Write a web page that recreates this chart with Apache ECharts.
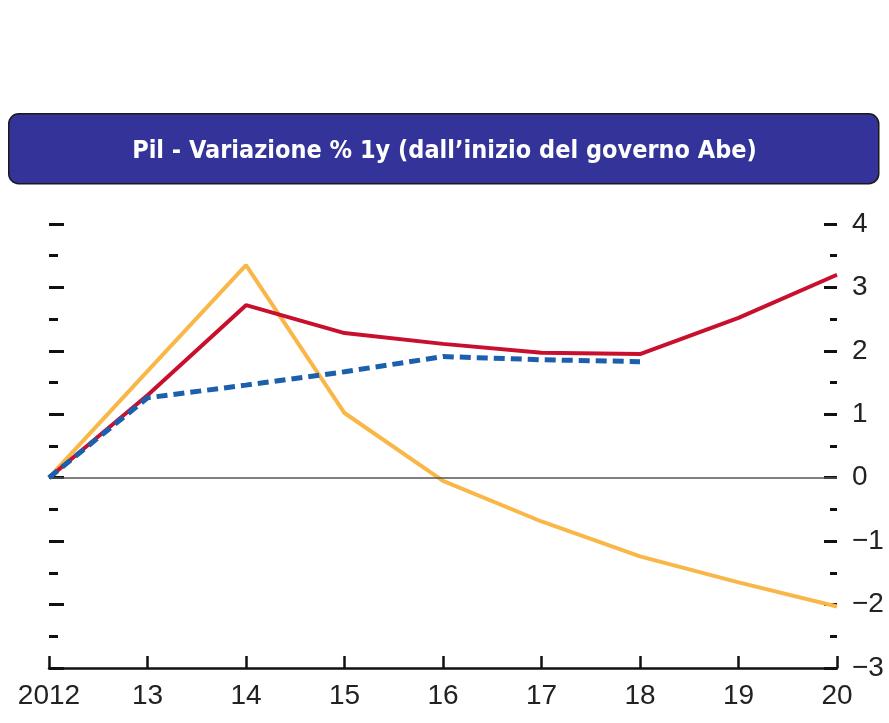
<!DOCTYPE html>
<html>
<head>
<meta charset="utf-8">
<script src="https://cdn.jsdelivr.net/npm/echarts@6/dist/echarts.min.js"></script>
<style>
  html, body { margin: 0; padding: 0; background: #fff; }
  #main { width: 889px; height: 723px; }
</style>
</head>
<body>
<div id="main"></div>
<script>
// dati
var anni = ['2012', '13', '14', '15', '16', '17', '18', '19', '20'];
var serieRossa = [0, 1.3, 2.72, 2.28, 2.11, 1.97, 1.95, 2.52, 3.2];
var serieGialla = [0, 1.68, 3.35, 1.02, -0.05, -0.69, -1.24, -1.65, -2.03];
var serieBlu = [0, 1.26, 1.46, 1.67, 1.91, 1.86, 1.83, null, null];
var yMin = -3, yMax = 4;

var chart = echarts.init(document.getElementById('main'));

var fontAssi = 'Liberation Sans, Arial, sans-serif';

var option = {
  animation: false,
  backgroundColor: '#ffffff',
  title: {
    text: 'Pil - Variazione % 1y (dall\u2019inizio del governo Abe)',
    left: 'center',
    top: 134,
    textStyle: {
      color: '#ffffff',
      fontFamily: 'DejaVu Sans Condensed, DejaVu Sans, sans-serif',
      fontWeight: 'bold',
      fontSize: 25
    }
  },
  graphic: [{
    type: 'rect',
    left: 8,
    top: 113,
    z: -1,
    shape: { width: 870, height: 70, r: 10 },
    style: { fill: '#333399', stroke: '#1a1a1a', lineWidth: 1.5 }
  }],
  grid: {
    left: 49,
    right: 52,
    top: 224,
    bottom: 55,
    containLabel: false
  },
  xAxis: {
    type: 'category',
    data: anni,
    boundaryGap: false,
    axisLine: { onZero: false, lineStyle: { color: '#111', width: 2.5 } },
    axisTick: {
      inside: true,
      length: 12,
      alignWithLabel: true,
      lineStyle: { color: '#111', width: 2.5 }
    },
    axisLabel: {
      color: '#222',
      fontFamily: fontAssi,
      fontSize: 28,
      margin: 14,
      showMinLabel: true,
      showMaxLabel: true
    },
    splitLine: { show: false }
  },
  yAxis: [{
    type: 'value',
    position: 'left',
    min: yMin,
    max: yMax,
    interval: 1,
    axisLine: { show: false },
    axisTick: { show: true, inside: true, length: 15, lineStyle: { color: '#111', width: 3 } },
    minorTick: { show: true, splitNumber: 2, length: 9, lineStyle: { color: '#111', width: 3 } },
    axisLabel: { show: false },
    splitLine: { show: false }
  }, {
    type: 'value',
    position: 'right',
    min: yMin,
    max: yMax,
    interval: 1,
    axisLine: { show: false },
    axisTick: { show: true, inside: true, length: 13, lineStyle: { color: '#111', width: 3 } },
    minorTick: { show: true, splitNumber: 2, length: 7, lineStyle: { color: '#111', width: 3 } },
    axisLabel: {
      color: '#222',
      fontFamily: fontAssi,
      fontSize: 28,
      margin: 15,
      formatter: function (v) { return String(v).replace('-', '\u2212'); }
    },
    splitLine: { show: false }
  }],
  series: [{
    name: 'Gialla',
    type: 'line',
    data: serieGialla,
    symbol: 'none',
    z: 3,
    lineStyle: { color: '#f9b748', width: 4 },
    markLine: {
      silent: true,
      symbol: 'none',
      label: { show: false },
      lineStyle: { color: '#555', width: 1.5, type: 'solid' },
      data: [{ yAxis: 0 }]
    }
  }, {
    name: 'Rossa',
    type: 'line',
    data: serieRossa,
    symbol: 'none',
    z: 4,
    lineStyle: { color: '#c8102e', width: 4 }
  }, {
    name: 'Blu',
    type: 'line',
    data: serieBlu,
    symbol: 'none',
    z: 5,
    lineStyle: { color: '#1b5fad', width: 5, type: [11, 6] }
  }]
};

chart.setOption(option);
</script>
</body>
</html>
